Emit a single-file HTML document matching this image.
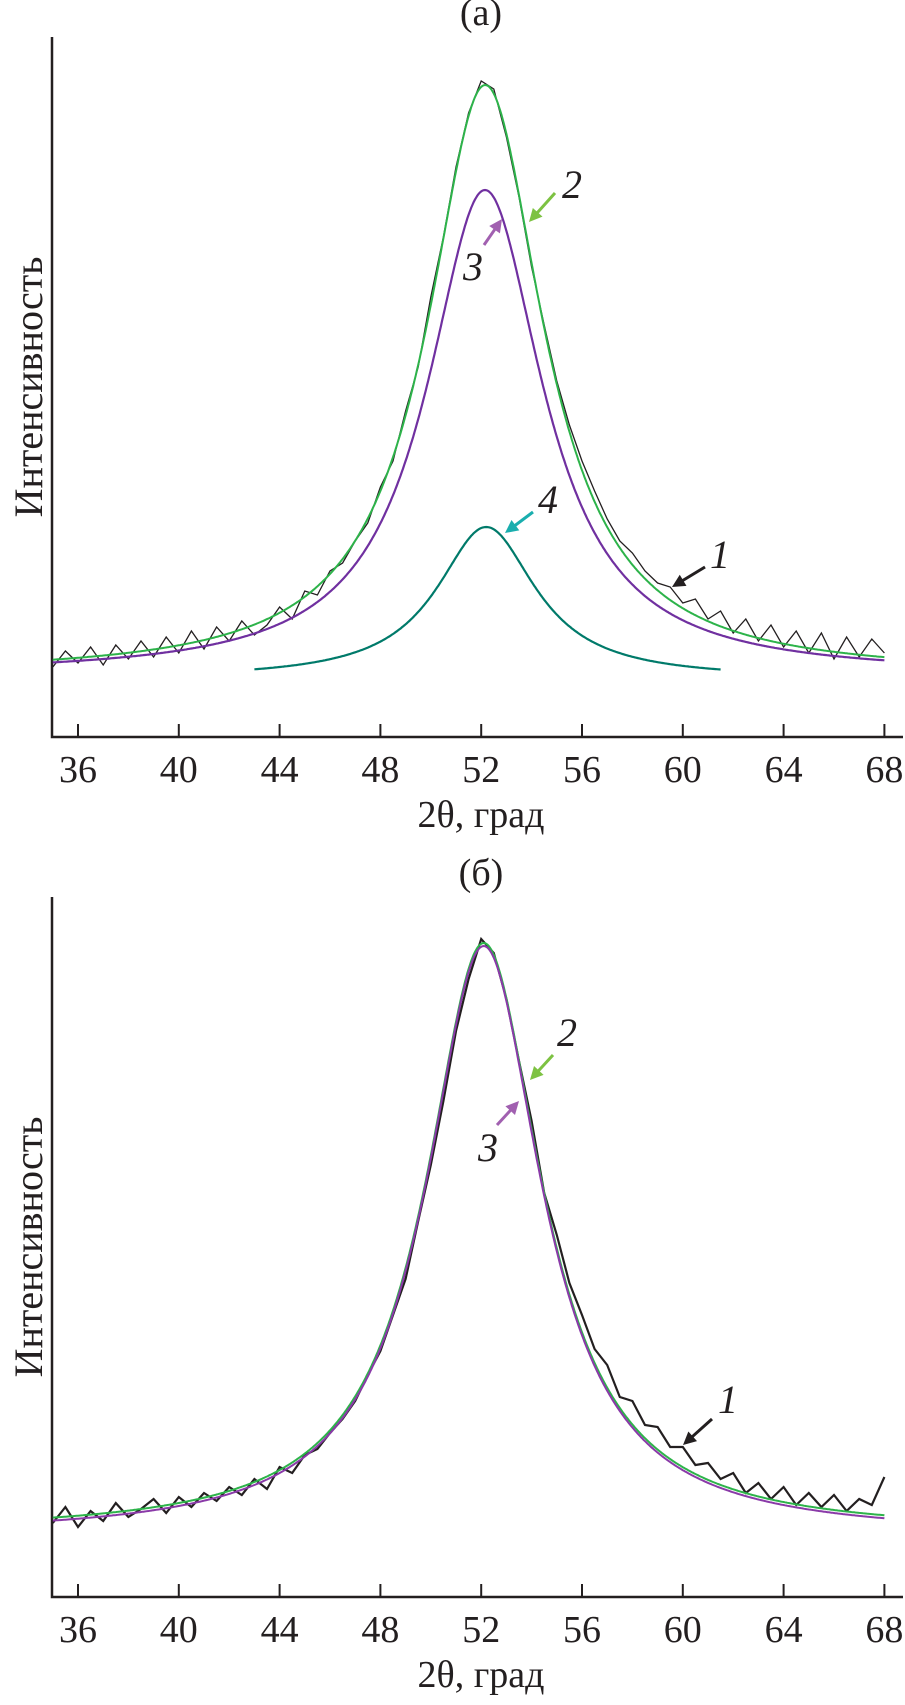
<!DOCTYPE html>
<html><head><meta charset="utf-8"><style>
html,body{margin:0;padding:0;background:#fff}
svg text{font-family:"Liberation Serif",serif;fill:#231f20}
</style></head><body>
<svg id="c" width="905" height="1700" xmlns="http://www.w3.org/2000/svg"></svg>
<script>
const xTicks=[36,40,44,48,52,56,60,64,68];
const xStart=35, xStep=0.5;
const dataA=[70,86,74,90,72,92,78,96,80,100,84,106,88,110,96,116,102,112,130,118,146,142,166,174,196,214,250,276,326,370,440,500,570,624,656,648,600,540,470,412,356,312,276,246,218,196,184,166,154,150,134,138,118,126,104,118,96,112,90,106,84,104,78,100,80,98,84];
const dataB=[74,90,70,86,76,94,80,88,98,84,100,90,104,96,110,102,118,108,130,124,142,148,164,178,196,222,246,282,318,376,432,496,566,618,658,644,598,536,476,404,362,314,282,248,232,200,196,172,170,150,150,132,134,118,124,104,114,98,110,92,104,90,102,86,98,92,120];
// fit parameters: [baseline, amplitude, hwhm, center]
const fitA3=[62,485,2.8,52.15];
const fitA4=[0,105,2.8,52.2];
const fitA4drawn=[58,152,2.4,52.2];
const fitB3=[61,590,2.8,52.1];
const fitB2=[64,590,2.8,52.1];
const NS="http://www.w3.org/2000/svg", svg=document.getElementById('c');
function el(t,a,txt){const e=document.createElementNS(NS,t);for(const k in a)e.setAttribute(k,a[k]);if(txt!=null)e.textContent=txt;svg.appendChild(e);return e;}
const xs=v=>78+(v-36)*25.2;
const lor=(p,x)=>p[1]/(1+((x-p[3])/p[2])**2);
function panel(top,axisY,title,name){
  const g=el('g',{});
  const ys=v=>axisY-v;
  let e=el('path',{d:`M52 ${top}V${axisY}H903`,stroke:'#231f20','stroke-width':2.5,fill:'none'});
  
  xTicks.forEach(t=>{
    let k=el('line',{x1:xs(t),x2:xs(t),y1:axisY,y2:axisY-13,stroke:'#231f20','stroke-width':2});
    
    let l=el('text',{x:xs(t),y:axisY+45,'font-size':38,'text-anchor':'middle'},t);
    
  });
  e=el('text',{x:481,y:axisY+90,'font-size':38,'text-anchor':'middle'},'2θ, град');
  
  const cy=(top+axisY)/2;
  e=el('text',{x:0,y:0,'font-size':40,'text-anchor':'middle',transform:`translate(42 ${cy}) rotate(-90)`},'Интенсивность');
  
  e=el('text',{x:481,y:top-12,'font-size':38,'text-anchor':'middle'},title);
  
  return ys;
}
function curve(f,x0,x1,ys,col,w,name){
  let d='';for(let x=x0;x<=x1+1e-9;x+=0.05)d+=(d?'L':'M')+xs(x).toFixed(1)+' '+ys(f(x)).toFixed(1);
  const p=el('path',{d,stroke:col,'stroke-width':w,fill:'none'});
  
}
function dataLine(arr,ys,w,name){
  const d=arr.map((v,i)=>(i?'L':'M')+xs(xStart+i*xStep).toFixed(1)+' '+ys(v).toFixed(1)).join('');
  const p=el('path',{d,stroke:'#231f20','stroke-width':w,fill:'none'});
  
}
function ann(lbl,lx,ly,x1,y1,x2,y2,col,name){
  const t=el('text',{x:lx,y:ly,'font-size':40,'font-style':'italic','text-anchor':'middle'},lbl);
  
  const a=Math.atan2(y2-y1,x2-x1),h=13;
  const l=el('line',{x1,y1,x2:x2-Math.cos(a)*h*0.8,y2:y2-Math.sin(a)*h*0.8,stroke:col,'stroke-width':3});
  
  const p=el('polygon',{points:`${x2},${y2} ${x2-h*Math.cos(a)+6.5*Math.sin(a)},${y2-h*Math.sin(a)-6.5*Math.cos(a)} ${x2-h*Math.cos(a)-6.5*Math.sin(a)},${y2-h*Math.sin(a)+6.5*Math.cos(a)}`,fill:col});
  
}
// Panel a
let ys=panel(37,737,'(а)','panel-a');
dataLine(dataA,ys,1.3,'curve-1-experimental');
curve(x=>fitA3[0]+lor(fitA3,x),35,68,ys,'#7030a0',2.2,'curve-3-component');
curve(x=>fitA4drawn[0]+lor(fitA4drawn,x),43,61.5,ys,'#007a6a',2.2,'curve-4-component');
curve(x=>fitA3[0]+lor(fitA3,x)+lor(fitA4,x),35,68,ys,'#2db34a',2,'curve-2-fit');
ann('2',572,198,555,193,529,222,'#7dc242','annot-2');
ann('3',473,280,484,245,502,219,'#a160b0','annot-3');
ann('4',548,513,533,512,505,533,'#1aaeae','annot-4');
ann('1',720,568,705,567,672,587,'#231f20','annot-1');
// Panel b
ys=panel(897,1597,'(б)','panel-b');
dataLine(dataB,ys,2.2,'curve-1-experimental');
curve(x=>fitB2[0]+lor(fitB2,x),35,68,ys,'#2db34a',2,'curve-2-fit');
curve(x=>fitB3[0]+lor(fitB3,x),35,68,ys,'#8a3aa8',2,'curve-3-component');
ann('2',567,1046,553,1055,530,1080,'#7dc242','annot-2');
ann('3',488,1161,497,1125,519,1101,'#a160b0','annot-3');
ann('1',728,1413,712,1419,683,1445,'#231f20','annot-1');
</script>
</body></html>
